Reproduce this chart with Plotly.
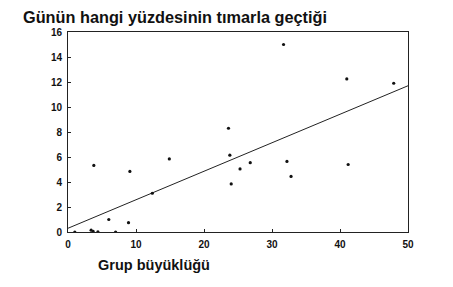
import plotly.graph_objects as go

# Data
group_size = [3.8, 6.0, 9.1, 8.9, 12.4, 14.9, 23.6, 23.8, 24.0, 25.3, 26.8,
              31.7, 32.2, 32.8, 41.0, 41.2, 47.9, 3.4, 3.7, 4.4, 1.0, 7.0]
grooming_pct = [5.33, 1.0, 4.85, 0.75, 3.1, 5.85, 8.3, 6.15, 3.85, 5.05, 5.55,
                15.0, 5.65, 4.45, 12.25, 5.4, 11.9, 0.15, 0.05, 0.02, 0.0, 0.0]

fit_x = [0, 50]
fit_y = [0.3, 11.7]

x_ticks = [0, 10, 20, 30, 40, 50]
y_ticks = [0, 2, 4, 6, 8, 10, 12, 14, 16]

title_text = "Günün hangi yüzdesinin tımarla geçtiği"
xlabel_text = "Grup büyüklüğü"

fig = go.Figure()
fig.add_trace(go.Scatter(x=fit_x, y=fit_y, mode="lines",
                         line=dict(color="#222", width=1), hoverinfo="skip"))
fig.add_trace(go.Scatter(x=group_size, y=grooming_pct, mode="markers",
                         marker=dict(color="#111", size=3.2)))

axis_common = dict(showgrid=False, zeroline=False, showline=True, mirror=True,
                   linecolor="#222", linewidth=1, ticks="inside", ticklen=3,
                   tickcolor="#222", ticklabelstandoff=3,
                   tickfont=dict(family="Liberation Sans, Arial", size=10, color="#111",
                                 weight=600))

fig.update_xaxes(range=[0, 50], tickvals=x_ticks, **axis_common)
fig.update_yaxes(range=[0, 16], tickvals=y_ticks, **axis_common)

fig.update_layout(
    width=453, height=287,
    margin=dict(l=68, r=45, t=32, b=55),
    paper_bgcolor="white", plot_bgcolor="white",
    showlegend=False,
    annotations=[
        dict(text="<b>" + title_text + "</b>", x=21, y=287 - 16.5, xref="paper", yref="paper",
             showarrow=False, xanchor="left", yanchor="middle",
             font=dict(family="Liberation Sans, Arial", size=16.3, color="#111")),
        dict(text="<b>" + xlabel_text + "</b>", x=96, y=287 - 265, xref="paper", yref="paper",
             showarrow=False, xanchor="left", yanchor="middle",
             font=dict(family="Liberation Sans, Arial", size=14.5, color="#111")),
    ],
)

# convert pixel positions of annotations to paper coords
pw = 453 - 68 - 45
ph = 287 - 32 - 55
for a in fig.layout.annotations:
    a.x = (a.x - 68) / pw
    a.y = (a.y - 55) / ph

fig.write_html("out.html")
